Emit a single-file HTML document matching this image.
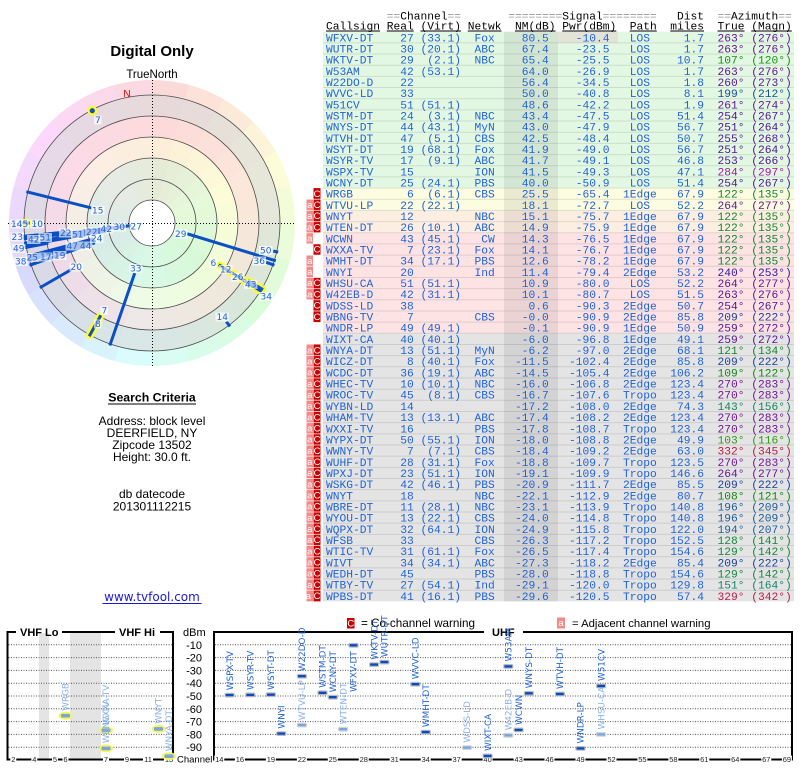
<!DOCTYPE html>
<html><head><meta charset="utf-8"><style>
body{margin:0;width:800px;height:768px;position:relative;overflow:hidden;background:#fff;font-family:"Liberation Sans",sans-serif}
.d{position:absolute;border-radius:50%}
svg{position:absolute;left:0;top:0}
.tb text{font-family:"Liberation Mono",monospace;font-size:11.25px;fill:#1f62d6}
.hd text{font-family:"Liberation Mono",monospace;font-size:11.25px;fill:#000}
.e{text-anchor:end}.m{text-anchor:middle}
.pl text{font-family:"DejaVu Sans",sans-serif;font-size:9px;fill:#1f62d6}
.pl rect{fill:#fff;opacity:.65}
.vl text{font-family:"DejaVu Sans",sans-serif;font-size:8.8px}
.dk{fill:#1f62d6}.lt{fill:#8ab0e8}
.ax text{font-family:"Liberation Sans",sans-serif;font-size:7.5px;fill:#222;text-anchor:middle}
</style></head><body>
<div class="d" style="left:9px;top:80px;width:286px;height:286px;background:conic-gradient(hsl(0,85%,92%) 0deg 15deg,hsl(15,85%,92%) 15deg 30deg,hsl(30,85%,92%) 30deg 45deg,hsl(45,85%,92%) 45deg 60deg,hsl(60,85%,92%) 60deg 75deg,hsl(75,85%,92%) 75deg 90deg,hsl(90,85%,92%) 90deg 105deg,hsl(105,85%,92%) 105deg 120deg,hsl(120,85%,92%) 120deg 135deg,hsl(135,85%,92%) 135deg 150deg,hsl(150,85%,92%) 150deg 165deg,hsl(165,85%,92%) 165deg 180deg,hsl(180,85%,92%) 180deg 195deg,hsl(195,85%,92%) 195deg 210deg,hsl(210,85%,92%) 210deg 225deg,hsl(225,85%,92%) 225deg 240deg,hsl(240,85%,92%) 240deg 255deg,hsl(255,85%,92%) 255deg 270deg,hsl(270,85%,92%) 270deg 285deg,hsl(285,85%,92%) 285deg 300deg,hsl(300,85%,92%) 300deg 315deg,hsl(315,85%,92%) 315deg 330deg,hsl(330,85%,92%) 330deg 345deg,hsl(345,85%,92%) 345deg 360deg)"></div>
<div class="d" style="left:24px;top:95px;width:256px;height:256px;background:#e2e2e2"></div>
<div class="d" style="left:45px;top:116px;width:214px;height:214px;background:#fde3e3"></div>
<div class="d" style="left:66px;top:137px;width:172px;height:172px;background:#fdfde1"></div>
<div class="d" style="left:87px;top:158px;width:130px;height:130px;background:#e1f9e1"></div>
<div class="d" style="left:24px;top:95px;width:256px;height:256px;opacity:.22;background:conic-gradient(hsl(0,85%,85%) 0deg 15deg,hsl(15,85%,85%) 15deg 30deg,hsl(30,85%,85%) 30deg 45deg,hsl(45,85%,85%) 45deg 60deg,hsl(60,85%,85%) 60deg 75deg,hsl(75,85%,85%) 75deg 90deg,hsl(90,85%,85%) 90deg 105deg,hsl(105,85%,85%) 105deg 120deg,hsl(120,85%,85%) 120deg 135deg,hsl(135,85%,85%) 135deg 150deg,hsl(150,85%,85%) 150deg 165deg,hsl(165,85%,85%) 165deg 180deg,hsl(180,85%,85%) 180deg 195deg,hsl(195,85%,85%) 195deg 210deg,hsl(210,85%,85%) 210deg 225deg,hsl(225,85%,85%) 225deg 240deg,hsl(240,85%,85%) 240deg 255deg,hsl(255,85%,85%) 255deg 270deg,hsl(270,85%,85%) 270deg 285deg,hsl(285,85%,85%) 285deg 300deg,hsl(300,85%,85%) 300deg 315deg,hsl(315,85%,85%) 315deg 330deg,hsl(330,85%,85%) 330deg 345deg,hsl(345,85%,85%) 345deg 360deg)"></div>
<div class="d" style="left:129px;top:200px;width:46px;height:46px;background:#fff"></div>

<svg width="800" height="768" xmlns="http://www.w3.org/2000/svg">
<!-- ===== POLAR ===== -->
<g fill="none" stroke="#4a4a4a" stroke-width="0.8">
<circle cx="152" cy="223" r="23"/><circle cx="152" cy="223" r="44"/><circle cx="152" cy="223" r="65"/><circle cx="152" cy="223" r="86"/><circle cx="152" cy="223" r="107"/><circle cx="152" cy="223" r="128"/>
</g>
<g stroke="#000" stroke-width="1" stroke-dasharray="1 2">
<line x1="8" y1="223.5" x2="296" y2="223.5"/>
<line x1="152.5" y1="80" x2="152.5" y2="366"/>
</g>
<text x="152" y="56" text-anchor="middle" font-family="Liberation Sans" font-weight="bold" font-size="15">Digital Only</text>
<text x="152" y="78" text-anchor="middle" font-family="Liberation Sans" font-size="11.5">TrueNorth</text>
<text x="127" y="97" text-anchor="middle" font-family="Liberation Sans" font-size="10" fill="#d40000">N</text>

<g stroke="#ffff20" stroke-width="8" stroke-linecap="round" opacity="0.95">
<line x1="220" y1="265.5" x2="260.6" y2="290.8"/>
<line x1="249.3" y1="281.5" x2="261.7" y2="288.9"/>
<line x1="100.1" y1="316.6" x2="89.9" y2="335"/>
<line x1="28.2" y1="223" x2="24" y2="223"/>
</g>
<circle cx="92.3" cy="110.7" r="4.8" fill="#ffff20"/>
<circle cx="92.3" cy="110.7" r="2.6" fill="#0b4fc4"/>
<g stroke="#0b4fc4" stroke-width="3" stroke-linecap="square">
<line x1="129.67" y1="225.74" x2="24.95" y2="238.6"/>
<line x1="116.07" y1="227.41" x2="24.95" y2="238.6"/>
<line x1="188.63" y1="234.2" x2="274.4" y2="260.42"/>
<line x1="112.5" y1="227.85" x2="24.95" y2="238.6"/>
<line x1="104.93" y1="231.3" x2="25.94" y2="245.23"/>
<line x1="134.26" y1="274.53" x2="110.33" y2="344.03"/>
<line x1="96.69" y1="231.76" x2="25.58" y2="243.02"/>
<line x1="92.98" y1="239.92" x2="28.96" y2="258.28"/>
<line x1="93.47" y1="243.15" x2="30.97" y2="264.67"/>
<line x1="91.73" y1="239.15" x2="28.36" y2="256.13"/>
<line x1="92.43" y1="243.51" x2="30.97" y2="264.67"/>
<line x1="91.56" y1="241.48" x2="29.59" y2="260.42"/>
<line x1="90.48" y1="207.66" x2="27.8" y2="192.03"/>
<line x1="89.52" y1="240.92" x2="28.96" y2="258.28"/>
<line x1="220.01" y1="265.5" x2="260.55" y2="290.83"/>
<line x1="64.48" y1="232.2" x2="24.7" y2="236.38"/>
<line x1="69.73" y1="270.5" x2="41.15" y2="287"/>
<line x1="56.92" y1="232.99" x2="24.7" y2="236.38"/>
<line x1="56.32" y1="234.75" x2="24.95" y2="238.6"/>
<line x1="49.72" y1="252.33" x2="28.96" y2="258.28"/>
<line x1="100.13" y1="316.58" x2="89.94" y2="334.95"/>
<line x1="46.87" y1="243.44" x2="26.35" y2="247.42"/>
<line x1="249.29" y1="281.46" x2="261.72" y2="288.93"/>
<line x1="267.54" y1="262.78" x2="273.03" y2="264.67"/>
<line x1="28.2" y1="223" x2="24" y2="223"/>
<line x1="227.23" y1="322.83" x2="229.03" y2="325.23"/>
<line x1="274.67" y1="251.32" x2="276.72" y2="251.79"/>
<line x1="25.7" y1="236.28" x2="24.7" y2="236.38"/>
</g>
<g class="pl">
<rect x="91" y="206" width="13.5" height="9"/><text x="92" y="213.5">15</text>
<rect x="10" y="219.5" width="19" height="9"/><text x="11" y="227">145</text>
<rect x="30.5" y="219.5" width="13.5" height="9"/><text x="31.5" y="227">10</text>
<rect x="10.5" y="232.5" width="13.5" height="9"/><text x="11.5" y="240">23</text>
<rect x="27" y="235" width="13.5" height="9"/><text x="28" y="242.5">42</text>
<rect x="38.5" y="233" width="13.5" height="9"/><text x="39.5" y="240.5">51</text>
<rect x="59" y="228.5" width="13.5" height="9"/><text x="60" y="236">22</text>
<rect x="71" y="230" width="13.5" height="9"/><text x="72" y="237.5">51</text>
<rect x="85" y="227.5" width="13.5" height="9"/><text x="86" y="235">22</text>
<rect x="99.5" y="224.5" width="13.5" height="9"/><text x="100.5" y="232">42</text>
<rect x="112.5" y="222.5" width="13.5" height="9"/><text x="113.5" y="230">30</text>
<rect x="129.5" y="222" width="13.5" height="9"/><text x="130.5" y="229.5">27</text>
<rect x="90" y="234" width="13.5" height="9"/><text x="91" y="241.5">24</text>
<rect x="12" y="244" width="13.5" height="9"/><text x="13" y="251.5">49</text>
<rect x="65.5" y="241.5" width="13.5" height="9"/><text x="66.5" y="249">47</text>
<rect x="79" y="241.5" width="13.5" height="9"/><text x="80" y="249">44</text>
<rect x="14" y="257" width="13.5" height="9"/><text x="15" y="264.5">38</text>
<rect x="25.5" y="253" width="13.5" height="9"/><text x="26.5" y="260.5">25</text>
<rect x="39" y="252.5" width="13.5" height="9"/><text x="40" y="260">17</text>
<rect x="53" y="251" width="13.5" height="9"/><text x="54" y="258.5">19</text>
<rect x="69.5" y="262.5" width="13.5" height="9"/><text x="70.5" y="270">20</text>
<rect x="129" y="264" width="13.5" height="9"/><text x="130" y="271.5">33</text>
<rect x="174" y="229.5" width="13.5" height="9"/><text x="175" y="237">29</text>
<rect x="259" y="246" width="13.5" height="9"/><text x="260" y="253.5">50</text>
<rect x="252.5" y="256.5" width="13.5" height="9"/><text x="253.5" y="264">36</text>
<rect x="209.5" y="258.5" width="7.5" height="9"/><text x="210.5" y="266">6</text>
<rect x="219" y="265" width="13.5" height="9"/><text x="220" y="272.5">12</text>
<rect x="231" y="272.5" width="13.5" height="9"/><text x="232" y="280">26</text>
<rect x="244" y="280" width="13.5" height="9"/><text x="245" y="287.5">43</text>
<text x="258" y="294">7</text>
<rect x="259.5" y="292" width="13.5" height="9"/><text x="260.5" y="299.5">34</text>
<rect x="215.5" y="312.5" width="13.5" height="9"/><text x="216.5" y="320">14</text>
<rect x="100.5" y="306" width="7.5" height="9"/><text x="101.5" y="313.5">7</text>
<rect x="94" y="319.5" width="7.5" height="9"/><text x="95" y="327">8</text>
<rect x="94" y="115.5" width="7.5" height="9"/><text x="95" y="123">7</text>
</g>

<!-- ===== SEARCH CRITERIA ===== -->
<g font-family="Liberation Sans" font-size="12" text-anchor="middle" fill="#000">
<text x="152" y="401.5" font-weight="bold" font-size="12.3">Search Criteria</text>
<text x="152" y="425">Address: block level</text>
<text x="152" y="437">DEERFIELD, NY</text>
<text x="152" y="449">Zipcode 13502</text>
<text x="152" y="461">Height: 30.0 ft.</text>
<text x="152" y="498">db datecode</text>
<text x="152" y="510.5">201301112215</text>
<text x="152" y="601" font-family="DejaVu Sans" fill="#1a1ad0">www.tvfool.com</text>
</g>
<line x1="108" y1="404" x2="196" y2="404" stroke="#000" stroke-width="1"/>
<line x1="102.5" y1="603.5" x2="201.5" y2="603.5" stroke="#1a1ad0" stroke-width="1"/>

<!-- ===== TABLE ===== -->
<rect x="323" y="31.7" width="471" height="156.38" fill="#e3f8e3"/>
<rect x="323" y="188.08" width="471" height="22.34" fill="#fcfce0"/>
<rect x="323" y="210.42" width="471" height="22.34" fill="#fdeee2"/>
<rect x="323" y="232.76" width="471" height="100.53" fill="#fde3e3"/>
<rect x="323" y="333.29" width="471" height="268.08" fill="#e4e4e4"/>
<rect x="504" y="31.7" width="54" height="569.67" fill="#000" opacity="0.07"/>
<rect x="558" y="31.7" width="60" height="11.17" fill="#e3e3d8"/>
<!-- warning boxes -->
<g fill="#f28a8a">
<rect x="306.5" y="199.25" width="6.5" height="44.68"/>
<rect x="306.5" y="255.1" width="6.5" height="44.68"/>
<rect x="306.5" y="344.46" width="6.5" height="256.91"/>
</g>
<g fill="#c80000">
<rect x="313.5" y="188.08" width="7" height="44.68"/>
<rect x="313.5" y="243.93" width="7" height="11.17"/>
<rect x="313.5" y="277.44" width="7" height="44.68"/>
<rect x="313.5" y="344.46" width="7" height="256.91"/>
</g>
<path stroke="#000" stroke-opacity="0.1" stroke-width="1" fill="none" d="M323 42.87H794M323 54.04H794M323 65.21H794M323 76.38H794M323 87.55H794M323 98.72H794M323 109.89H794M323 121.06H794M323 132.23H794M323 143.4H794M323 154.57H794M323 165.74H794M323 176.91H794M323 188.08H794M323 199.25H794M323 210.42H794M323 221.59H794M323 232.76H794M323 243.93H794M323 255.1H794M323 266.27H794M323 277.44H794M323 288.61H794M323 299.78H794M323 310.95H794M323 322.12H794M323 333.29H794M323 344.46H794M323 355.63H794M323 366.8H794M323 377.97H794M323 389.14H794M323 400.31H794M323 411.48H794M323 422.65H794M323 433.82H794M323 444.99H794M323 456.16H794M323 467.33H794M323 478.5H794M323 489.67H794M323 500.84H794M323 512.01H794M323 523.18H794M323 534.35H794M323 545.52H794M323 556.69H794M323 567.86H794M323 579.03H794M323 590.2H794"/>
<path stroke="#fff" stroke-opacity="0.7" stroke-width="1" fill="none" d="M306 199.25H321M306 210.42H321M306 221.59H321M306 232.76H321M306 243.93H321M306 255.1H321M306 266.27H321M306 277.44H321M306 288.61H321M306 299.78H321M306 310.95H321M306 355.63H321M306 366.8H321M306 377.97H321M306 389.14H321M306 400.31H321M306 411.48H321M306 422.65H321M306 433.82H321M306 444.99H321M306 456.16H321M306 467.33H321M306 478.5H321M306 489.67H321M306 500.84H321M306 512.01H321M306 523.18H321M306 534.35H321M306 545.52H321M306 556.69H321M306 567.86H321M306 579.03H321M306 590.2H321"/>
<text font-family="Liberation Sans" font-size="9.5" fill="#fff" text-anchor="middle">
<tspan x="309.75" y="208.05">a</tspan><tspan x="309.75" y="219.22">a</tspan><tspan x="309.75" y="230.39">a</tspan><tspan x="309.75" y="241.56">a</tspan><tspan x="309.75" y="263.9">a</tspan><tspan x="309.75" y="275.07">a</tspan><tspan x="309.75" y="286.24">a</tspan><tspan x="309.75" y="297.41">a</tspan><tspan x="309.75" y="353.26">a</tspan><tspan x="309.75" y="364.43">a</tspan><tspan x="309.75" y="375.6">a</tspan><tspan x="309.75" y="386.77">a</tspan><tspan x="309.75" y="397.94">a</tspan><tspan x="309.75" y="409.11">a</tspan><tspan x="309.75" y="420.28">a</tspan><tspan x="309.75" y="431.45">a</tspan><tspan x="309.75" y="442.62">a</tspan><tspan x="309.75" y="453.79">a</tspan><tspan x="309.75" y="464.96">a</tspan><tspan x="309.75" y="476.13">a</tspan><tspan x="309.75" y="487.3">a</tspan><tspan x="309.75" y="498.47">a</tspan><tspan x="309.75" y="509.64">a</tspan><tspan x="309.75" y="520.81">a</tspan><tspan x="309.75" y="531.98">a</tspan><tspan x="309.75" y="543.15">a</tspan><tspan x="309.75" y="554.32">a</tspan><tspan x="309.75" y="565.49">a</tspan><tspan x="309.75" y="576.66">a</tspan><tspan x="309.75" y="587.83">a</tspan><tspan x="309.75" y="599">a</tspan>
<tspan x="317" y="196.88">C</tspan><tspan x="317" y="208.05">C</tspan><tspan x="317" y="219.22">C</tspan><tspan x="317" y="230.39">C</tspan><tspan x="317" y="252.73">C</tspan><tspan x="317" y="286.24">C</tspan><tspan x="317" y="297.41">C</tspan><tspan x="317" y="308.58">C</tspan><tspan x="317" y="319.75">C</tspan><tspan x="317" y="353.26">C</tspan><tspan x="317" y="364.43">C</tspan><tspan x="317" y="375.6">C</tspan><tspan x="317" y="386.77">C</tspan><tspan x="317" y="397.94">C</tspan><tspan x="317" y="409.11">C</tspan><tspan x="317" y="420.28">C</tspan><tspan x="317" y="431.45">C</tspan><tspan x="317" y="442.62">C</tspan><tspan x="317" y="453.79">C</tspan><tspan x="317" y="464.96">C</tspan><tspan x="317" y="476.13">C</tspan><tspan x="317" y="487.3">C</tspan><tspan x="317" y="498.47">C</tspan><tspan x="317" y="509.64">C</tspan><tspan x="317" y="520.81">C</tspan><tspan x="317" y="531.98">C</tspan><tspan x="317" y="543.15">C</tspan><tspan x="317" y="554.32">C</tspan><tspan x="317" y="565.49">C</tspan><tspan x="317" y="576.66">C</tspan><tspan x="317" y="587.83">C</tspan><tspan x="317" y="599">C</tspan>
</text>

<g class="hd">
<text y="19.3"><tspan x="386.75" style="fill:#999">==</tspan><tspan x="400.25">Channel</tspan><tspan x="447.5" style="fill:#999">==</tspan><tspan x="508.25" style="fill:#999">========</tspan><tspan x="562.25">Signal</tspan><tspan x="602.75" style="fill:#999">========</tspan><tspan x="677">Dist</tspan><tspan x="717.5" style="fill:#999">==</tspan><tspan x="731">Azimuth</tspan><tspan x="778.25" style="fill:#999">==</tspan></text>
<text y="29.3"><tspan x="326">Callsign</tspan><tspan x="386.75">Real</tspan><tspan x="420.5">(Virt)</tspan><tspan x="467.75">Netwk</tspan><tspan x="515">NM(dB)</tspan><tspan x="562.25">Pwr(dBm)</tspan><tspan x="629.75">Path</tspan><tspan x="670.25">miles</tspan><tspan x="717.5">True</tspan><tspan x="751.25">(Magn)</tspan></text>
</g>
<path stroke="#000" stroke-width="1" d="M326 31H380M386.75 31H413.75M420.5 31H461M467.75 31H501.5M515 31H555.5M562.25 31H616.25M629.75 31H656.75M670.25 31H704M717.5 31H744.5M751.25 31H791.75"/>

<g class="tb">
<text y="41.3"><tspan x="326">WFXV-DT</tspan><tspan class="e" x="413.75">27</tspan><tspan class="e" x="461">(33.1)</tspan><tspan class="e" x="494.75">Fox</tspan><tspan class="e" x="548.75">80.5</tspan><tspan class="e" x="609.5">-10.4</tspan><tspan class="m" x="639.9">LOS</tspan><tspan class="e" x="704">1.7</tspan><tspan x="717.5" style="fill:hsl(276,75%,33%)">263° (276°)</tspan></text>
<text y="52.47"><tspan x="326">WUTR-DT</tspan><tspan class="e" x="413.75">30</tspan><tspan class="e" x="461">(20.1)</tspan><tspan class="e" x="494.75">ABC</tspan><tspan class="e" x="548.75">67.4</tspan><tspan class="e" x="609.5">-23.5</tspan><tspan class="m" x="639.9">LOS</tspan><tspan class="e" x="704">1.7</tspan><tspan x="717.5" style="fill:hsl(276,75%,33%)">263° (276°)</tspan></text>
<text y="63.64"><tspan x="326">WKTV-DT</tspan><tspan class="e" x="413.75">29</tspan><tspan class="e" x="461">(2.1)</tspan><tspan class="e" x="494.75">NBC</tspan><tspan class="e" x="548.75">65.4</tspan><tspan class="e" x="609.5">-25.5</tspan><tspan class="m" x="639.9">LOS</tspan><tspan class="e" x="704">10.7</tspan><tspan x="717.5" style="fill:hsl(120,75%,33%)">107° (120°)</tspan></text>
<text y="74.81"><tspan x="326">W53AM</tspan><tspan class="e" x="413.75">42</tspan><tspan class="e" x="461">(53.1)</tspan><tspan class="e" x="548.75">64.0</tspan><tspan class="e" x="609.5">-26.9</tspan><tspan class="m" x="639.9">LOS</tspan><tspan class="e" x="704">1.7</tspan><tspan x="717.5" style="fill:hsl(276,75%,33%)">263° (276°)</tspan></text>
<text y="85.98"><tspan x="326">W22DO-D</tspan><tspan class="e" x="413.75">22</tspan><tspan class="e" x="548.75">56.4</tspan><tspan class="e" x="609.5">-34.5</tspan><tspan class="m" x="639.9">LOS</tspan><tspan class="e" x="704">1.8</tspan><tspan x="717.5" style="fill:hsl(273,75%,33%)">260° (273°)</tspan></text>
<text y="97.15"><tspan x="326">WVVC-LD</tspan><tspan class="e" x="413.75">33</tspan><tspan class="e" x="548.75">50.0</tspan><tspan class="e" x="609.5">-40.8</tspan><tspan class="m" x="639.9">LOS</tspan><tspan class="e" x="704">8.1</tspan><tspan x="717.5" style="fill:hsl(212,75%,33%)">199° (212°)</tspan></text>
<text y="108.32"><tspan x="326">W51CV</tspan><tspan class="e" x="413.75">51</tspan><tspan class="e" x="461">(51.1)</tspan><tspan class="e" x="548.75">48.6</tspan><tspan class="e" x="609.5">-42.2</tspan><tspan class="m" x="639.9">LOS</tspan><tspan class="e" x="704">1.9</tspan><tspan x="717.5" style="fill:hsl(274,75%,33%)">261° (274°)</tspan></text>
<text y="119.49"><tspan x="326">WSTM-DT</tspan><tspan class="e" x="413.75">24</tspan><tspan class="e" x="461">(3.1)</tspan><tspan class="e" x="494.75">NBC</tspan><tspan class="e" x="548.75">43.4</tspan><tspan class="e" x="609.5">-47.5</tspan><tspan class="m" x="639.9">LOS</tspan><tspan class="e" x="704">51.4</tspan><tspan x="717.5" style="fill:hsl(267,75%,33%)">254° (267°)</tspan></text>
<text y="130.66"><tspan x="326">WNYS-DT</tspan><tspan class="e" x="413.75">44</tspan><tspan class="e" x="461">(43.1)</tspan><tspan class="e" x="494.75">MyN</tspan><tspan class="e" x="548.75">43.0</tspan><tspan class="e" x="609.5">-47.9</tspan><tspan class="m" x="639.9">LOS</tspan><tspan class="e" x="704">56.7</tspan><tspan x="717.5" style="fill:hsl(264,75%,33%)">251° (264°)</tspan></text>
<text y="141.83"><tspan x="326">WTVH-DT</tspan><tspan class="e" x="413.75">47</tspan><tspan class="e" x="461">(5.1)</tspan><tspan class="e" x="494.75">CBS</tspan><tspan class="e" x="548.75">42.5</tspan><tspan class="e" x="609.5">-48.4</tspan><tspan class="m" x="639.9">LOS</tspan><tspan class="e" x="704">50.7</tspan><tspan x="717.5" style="fill:hsl(268,75%,33%)">255° (268°)</tspan></text>
<text y="153"><tspan x="326">WSYT-DT</tspan><tspan class="e" x="413.75">19</tspan><tspan class="e" x="461">(68.1)</tspan><tspan class="e" x="494.75">Fox</tspan><tspan class="e" x="548.75">41.9</tspan><tspan class="e" x="609.5">-49.0</tspan><tspan class="m" x="639.9">LOS</tspan><tspan class="e" x="704">56.7</tspan><tspan x="717.5" style="fill:hsl(264,75%,33%)">251° (264°)</tspan></text>
<text y="164.17"><tspan x="326">WSYR-TV</tspan><tspan class="e" x="413.75">17</tspan><tspan class="e" x="461">(9.1)</tspan><tspan class="e" x="494.75">ABC</tspan><tspan class="e" x="548.75">41.7</tspan><tspan class="e" x="609.5">-49.1</tspan><tspan class="m" x="639.9">LOS</tspan><tspan class="e" x="704">46.8</tspan><tspan x="717.5" style="fill:hsl(266,75%,33%)">253° (266°)</tspan></text>
<text y="175.34"><tspan x="326">WSPX-TV</tspan><tspan class="e" x="413.75">15</tspan><tspan class="e" x="494.75">ION</tspan><tspan class="e" x="548.75">41.5</tspan><tspan class="e" x="609.5">-49.3</tspan><tspan class="m" x="639.9">LOS</tspan><tspan class="e" x="704">47.1</tspan><tspan x="717.5" style="fill:hsl(297,75%,38%)">284° (297°)</tspan></text>
<text y="186.51"><tspan x="326">WCNY-DT</tspan><tspan class="e" x="413.75">25</tspan><tspan class="e" x="461">(24.1)</tspan><tspan class="e" x="494.75">PBS</tspan><tspan class="e" x="548.75">40.0</tspan><tspan class="e" x="609.5">-50.9</tspan><tspan class="m" x="639.9">LOS</tspan><tspan class="e" x="704">51.4</tspan><tspan x="717.5" style="fill:hsl(267,75%,33%)">254° (267°)</tspan></text>
<text y="197.68"><tspan x="326">WRGB</tspan><tspan class="e" x="413.75">6</tspan><tspan class="e" x="461">(6.1)</tspan><tspan class="e" x="494.75">CBS</tspan><tspan class="e" x="548.75">25.5</tspan><tspan class="e" x="609.5">-65.4</tspan><tspan class="m" x="639.9">1Edge</tspan><tspan class="e" x="704">67.9</tspan><tspan x="717.5" style="fill:hsl(135,75%,30%)">122° (135°)</tspan></text>
<text y="208.85"><tspan x="326">WTVU-LP</tspan><tspan class="e" x="413.75">22</tspan><tspan class="e" x="461">(22.1)</tspan><tspan class="e" x="548.75">18.1</tspan><tspan class="e" x="609.5">-72.7</tspan><tspan class="m" x="639.9">LOS</tspan><tspan class="e" x="704">52.2</tspan><tspan x="717.5" style="fill:hsl(277,75%,33%)">264° (277°)</tspan></text>
<text y="220.02"><tspan x="326">WNYT</tspan><tspan class="e" x="413.75">12</tspan><tspan class="e" x="494.75">NBC</tspan><tspan class="e" x="548.75">15.1</tspan><tspan class="e" x="609.5">-75.7</tspan><tspan class="m" x="639.9">1Edge</tspan><tspan class="e" x="704">67.9</tspan><tspan x="717.5" style="fill:hsl(135,75%,30%)">122° (135°)</tspan></text>
<text y="231.19"><tspan x="326">WTEN-DT</tspan><tspan class="e" x="413.75">26</tspan><tspan class="e" x="461">(10.1)</tspan><tspan class="e" x="494.75">ABC</tspan><tspan class="e" x="548.75">14.9</tspan><tspan class="e" x="609.5">-75.9</tspan><tspan class="m" x="639.9">1Edge</tspan><tspan class="e" x="704">67.9</tspan><tspan x="717.5" style="fill:hsl(135,75%,30%)">122° (135°)</tspan></text>
<text y="242.36"><tspan x="326">WCWN</tspan><tspan class="e" x="413.75">43</tspan><tspan class="e" x="461">(45.1)</tspan><tspan class="e" x="494.75">CW</tspan><tspan class="e" x="548.75">14.3</tspan><tspan class="e" x="609.5">-76.5</tspan><tspan class="m" x="639.9">1Edge</tspan><tspan class="e" x="704">67.9</tspan><tspan x="717.5" style="fill:hsl(135,75%,30%)">122° (135°)</tspan></text>
<text y="253.53"><tspan x="326">WXXA-TV</tspan><tspan class="e" x="413.75">7</tspan><tspan class="e" x="461">(23.1)</tspan><tspan class="e" x="494.75">Fox</tspan><tspan class="e" x="548.75">14.1</tspan><tspan class="e" x="609.5">-76.7</tspan><tspan class="m" x="639.9">1Edge</tspan><tspan class="e" x="704">67.9</tspan><tspan x="717.5" style="fill:hsl(135,75%,30%)">122° (135°)</tspan></text>
<text y="264.7"><tspan x="326">WMHT-DT</tspan><tspan class="e" x="413.75">34</tspan><tspan class="e" x="461">(17.1)</tspan><tspan class="e" x="494.75">PBS</tspan><tspan class="e" x="548.75">12.6</tspan><tspan class="e" x="609.5">-78.2</tspan><tspan class="m" x="639.9">1Edge</tspan><tspan class="e" x="704">67.9</tspan><tspan x="717.5" style="fill:hsl(135,75%,30%)">122° (135°)</tspan></text>
<text y="275.87"><tspan x="326">WNYI</tspan><tspan class="e" x="413.75">20</tspan><tspan class="e" x="494.75">Ind</tspan><tspan class="e" x="548.75">11.4</tspan><tspan class="e" x="609.5">-79.4</tspan><tspan class="m" x="639.9">2Edge</tspan><tspan class="e" x="704">53.2</tspan><tspan x="717.5" style="fill:hsl(253,75%,35%)">240° (253°)</tspan></text>
<text y="287.04"><tspan x="326">WHSU-CA</tspan><tspan class="e" x="413.75">51</tspan><tspan class="e" x="461">(51.1)</tspan><tspan class="e" x="548.75">10.9</tspan><tspan class="e" x="609.5">-80.0</tspan><tspan class="m" x="639.9">LOS</tspan><tspan class="e" x="704">52.2</tspan><tspan x="717.5" style="fill:hsl(277,75%,33%)">264° (277°)</tspan></text>
<text y="298.21"><tspan x="326">W42EB-D</tspan><tspan class="e" x="413.75">42</tspan><tspan class="e" x="461">(31.1)</tspan><tspan class="e" x="548.75">10.1</tspan><tspan class="e" x="609.5">-80.7</tspan><tspan class="m" x="639.9">LOS</tspan><tspan class="e" x="704">51.5</tspan><tspan x="717.5" style="fill:hsl(276,75%,33%)">263° (276°)</tspan></text>
<text y="309.38"><tspan x="326">WDSS-LD</tspan><tspan class="e" x="413.75">38</tspan><tspan class="e" x="548.75">0.6</tspan><tspan class="e" x="609.5">-90.3</tspan><tspan class="m" x="639.9">2Edge</tspan><tspan class="e" x="704">50.7</tspan><tspan x="717.5" style="fill:hsl(267,75%,33%)">254° (267°)</tspan></text>
<text y="320.55"><tspan x="326">WBNG-TV</tspan><tspan class="e" x="413.75">7</tspan><tspan class="e" x="494.75">CBS</tspan><tspan class="e" x="548.75">-0.0</tspan><tspan class="e" x="609.5">-90.9</tspan><tspan class="m" x="639.9">2Edge</tspan><tspan class="e" x="704">85.8</tspan><tspan x="717.5" style="fill:hsl(222,70%,35%)">209° (222°)</tspan></text>
<text y="331.72"><tspan x="326">WNDR-LP</tspan><tspan class="e" x="413.75">49</tspan><tspan class="e" x="461">(49.1)</tspan><tspan class="e" x="548.75">-0.1</tspan><tspan class="e" x="609.5">-90.9</tspan><tspan class="m" x="639.9">1Edge</tspan><tspan class="e" x="704">50.9</tspan><tspan x="717.5" style="fill:hsl(272,75%,33%)">259° (272°)</tspan></text>
<text y="342.89"><tspan x="326">WIXT-CA</tspan><tspan class="e" x="413.75">40</tspan><tspan class="e" x="461">(40.1)</tspan><tspan class="e" x="548.75">-6.0</tspan><tspan class="e" x="609.5">-96.8</tspan><tspan class="m" x="639.9">1Edge</tspan><tspan class="e" x="704">49.1</tspan><tspan x="717.5" style="fill:hsl(272,75%,33%)">259° (272°)</tspan></text>
<text y="354.06"><tspan x="326">WNYA-DT</tspan><tspan class="e" x="413.75">13</tspan><tspan class="e" x="461">(51.1)</tspan><tspan class="e" x="494.75">MyN</tspan><tspan class="e" x="548.75">-6.2</tspan><tspan class="e" x="609.5">-97.0</tspan><tspan class="m" x="639.9">2Edge</tspan><tspan class="e" x="704">68.1</tspan><tspan x="717.5" style="fill:hsl(134,75%,30%)">121° (134°)</tspan></text>
<text y="365.23"><tspan x="326">WICZ-DT</tspan><tspan class="e" x="413.75">8</tspan><tspan class="e" x="461">(40.1)</tspan><tspan class="e" x="494.75">Fox</tspan><tspan class="e" x="548.75">-11.5</tspan><tspan class="e" x="609.5">-102.4</tspan><tspan class="m" x="639.9">2Edge</tspan><tspan class="e" x="704">85.8</tspan><tspan x="717.5" style="fill:hsl(222,70%,35%)">209° (222°)</tspan></text>
<text y="376.4"><tspan x="326">WCDC-DT</tspan><tspan class="e" x="413.75">36</tspan><tspan class="e" x="461">(19.1)</tspan><tspan class="e" x="494.75">ABC</tspan><tspan class="e" x="548.75">-14.5</tspan><tspan class="e" x="609.5">-105.4</tspan><tspan class="m" x="639.9">2Edge</tspan><tspan class="e" x="704">106.2</tspan><tspan x="717.5" style="fill:hsl(122,75%,30%)">109° (122°)</tspan></text>
<text y="387.57"><tspan x="326">WHEC-TV</tspan><tspan class="e" x="413.75">10</tspan><tspan class="e" x="461">(10.1)</tspan><tspan class="e" x="494.75">NBC</tspan><tspan class="e" x="548.75">-16.0</tspan><tspan class="e" x="609.5">-106.8</tspan><tspan class="m" x="639.9">2Edge</tspan><tspan class="e" x="704">123.4</tspan><tspan x="717.5" style="fill:hsl(283,75%,33%)">270° (283°)</tspan></text>
<text y="398.74"><tspan x="326">WROC-TV</tspan><tspan class="e" x="413.75">45</tspan><tspan class="e" x="461">(8.1)</tspan><tspan class="e" x="494.75">CBS</tspan><tspan class="e" x="548.75">-16.7</tspan><tspan class="e" x="609.5">-107.6</tspan><tspan class="m" x="639.9">Tropo</tspan><tspan class="e" x="704">123.4</tspan><tspan x="717.5" style="fill:hsl(283,75%,33%)">270° (283°)</tspan></text>
<text y="409.91"><tspan x="326">WYBN-LD</tspan><tspan class="e" x="413.75">14</tspan><tspan class="e" x="548.75">-17.2</tspan><tspan class="e" x="609.5">-108.0</tspan><tspan class="m" x="639.9">2Edge</tspan><tspan class="e" x="704">74.3</tspan><tspan x="717.5" style="fill:hsl(156,75%,30%)">143° (156°)</tspan></text>
<text y="421.08"><tspan x="326">WHAM-TV</tspan><tspan class="e" x="413.75">13</tspan><tspan class="e" x="461">(13.1)</tspan><tspan class="e" x="494.75">ABC</tspan><tspan class="e" x="548.75">-17.4</tspan><tspan class="e" x="609.5">-108.2</tspan><tspan class="m" x="639.9">2Edge</tspan><tspan class="e" x="704">123.4</tspan><tspan x="717.5" style="fill:hsl(283,75%,33%)">270° (283°)</tspan></text>
<text y="432.25"><tspan x="326">WXXI-TV</tspan><tspan class="e" x="413.75">16</tspan><tspan class="e" x="494.75">PBS</tspan><tspan class="e" x="548.75">-17.8</tspan><tspan class="e" x="609.5">-108.7</tspan><tspan class="m" x="639.9">Tropo</tspan><tspan class="e" x="704">123.4</tspan><tspan x="717.5" style="fill:hsl(283,75%,33%)">270° (283°)</tspan></text>
<text y="443.42"><tspan x="326">WYPX-DT</tspan><tspan class="e" x="413.75">50</tspan><tspan class="e" x="461">(55.1)</tspan><tspan class="e" x="494.75">ION</tspan><tspan class="e" x="548.75">-18.0</tspan><tspan class="e" x="609.5">-108.8</tspan><tspan class="m" x="639.9">2Edge</tspan><tspan class="e" x="704">49.9</tspan><tspan x="717.5" style="fill:hsl(110,70%,35%)">103° (116°)</tspan></text>
<text y="454.59"><tspan x="326">WWNY-TV</tspan><tspan class="e" x="413.75">7</tspan><tspan class="e" x="461">(7.1)</tspan><tspan class="e" x="494.75">CBS</tspan><tspan class="e" x="548.75">-18.4</tspan><tspan class="e" x="609.5">-109.2</tspan><tspan class="m" x="639.9">2Edge</tspan><tspan class="e" x="704">63.0</tspan><tspan x="717.5" style="fill:hsl(345,75%,42%)">332° (345°)</tspan></text>
<text y="465.76"><tspan x="326">WUHF-DT</tspan><tspan class="e" x="413.75">28</tspan><tspan class="e" x="461">(31.1)</tspan><tspan class="e" x="494.75">Fox</tspan><tspan class="e" x="548.75">-18.8</tspan><tspan class="e" x="609.5">-109.7</tspan><tspan class="m" x="639.9">Tropo</tspan><tspan class="e" x="704">123.5</tspan><tspan x="717.5" style="fill:hsl(283,75%,33%)">270° (283°)</tspan></text>
<text y="476.93"><tspan x="326">WPXJ-DT</tspan><tspan class="e" x="413.75">23</tspan><tspan class="e" x="461">(51.1)</tspan><tspan class="e" x="494.75">ION</tspan><tspan class="e" x="548.75">-19.1</tspan><tspan class="e" x="609.5">-109.9</tspan><tspan class="m" x="639.9">Tropo</tspan><tspan class="e" x="704">146.6</tspan><tspan x="717.5" style="fill:hsl(277,75%,33%)">264° (277°)</tspan></text>
<text y="488.1"><tspan x="326">WSKG-DT</tspan><tspan class="e" x="413.75">42</tspan><tspan class="e" x="461">(46.1)</tspan><tspan class="e" x="494.75">PBS</tspan><tspan class="e" x="548.75">-20.9</tspan><tspan class="e" x="609.5">-111.7</tspan><tspan class="m" x="639.9">2Edge</tspan><tspan class="e" x="704">85.5</tspan><tspan x="717.5" style="fill:hsl(222,70%,35%)">209° (222°)</tspan></text>
<text y="499.27"><tspan x="326">WNYT</tspan><tspan class="e" x="413.75">18</tspan><tspan class="e" x="494.75">NBC</tspan><tspan class="e" x="548.75">-22.1</tspan><tspan class="e" x="609.5">-112.9</tspan><tspan class="m" x="639.9">2Edge</tspan><tspan class="e" x="704">80.7</tspan><tspan x="717.5" style="fill:hsl(121,75%,30%)">108° (121°)</tspan></text>
<text y="510.44"><tspan x="326">WBRE-DT</tspan><tspan class="e" x="413.75">11</tspan><tspan class="e" x="461">(28.1)</tspan><tspan class="e" x="494.75">NBC</tspan><tspan class="e" x="548.75">-23.1</tspan><tspan class="e" x="609.5">-113.9</tspan><tspan class="m" x="639.9">Tropo</tspan><tspan class="e" x="704">140.8</tspan><tspan x="717.5" style="fill:hsl(209,70%,35%)">196° (209°)</tspan></text>
<text y="521.61"><tspan x="326">WYOU-DT</tspan><tspan class="e" x="413.75">13</tspan><tspan class="e" x="461">(22.1)</tspan><tspan class="e" x="494.75">CBS</tspan><tspan class="e" x="548.75">-24.0</tspan><tspan class="e" x="609.5">-114.8</tspan><tspan class="m" x="639.9">Tropo</tspan><tspan class="e" x="704">140.8</tspan><tspan x="717.5" style="fill:hsl(209,70%,35%)">196° (209°)</tspan></text>
<text y="532.78"><tspan x="326">WQPX-DT</tspan><tspan class="e" x="413.75">32</tspan><tspan class="e" x="461">(64.1)</tspan><tspan class="e" x="494.75">ION</tspan><tspan class="e" x="548.75">-24.9</tspan><tspan class="e" x="609.5">-115.8</tspan><tspan class="m" x="639.9">Tropo</tspan><tspan class="e" x="704">122.0</tspan><tspan x="717.5" style="fill:hsl(207,70%,35%)">194° (207°)</tspan></text>
<text y="543.95"><tspan x="326">WFSB</tspan><tspan class="e" x="413.75">33</tspan><tspan class="e" x="494.75">CBS</tspan><tspan class="e" x="548.75">-26.3</tspan><tspan class="e" x="609.5">-117.2</tspan><tspan class="m" x="639.9">Tropo</tspan><tspan class="e" x="704">152.5</tspan><tspan x="717.5" style="fill:hsl(141,75%,30%)">128° (141°)</tspan></text>
<text y="555.12"><tspan x="326">WTIC-TV</tspan><tspan class="e" x="413.75">31</tspan><tspan class="e" x="461">(61.1)</tspan><tspan class="e" x="494.75">Fox</tspan><tspan class="e" x="548.75">-26.5</tspan><tspan class="e" x="609.5">-117.4</tspan><tspan class="m" x="639.9">Tropo</tspan><tspan class="e" x="704">154.6</tspan><tspan x="717.5" style="fill:hsl(142,75%,30%)">129° (142°)</tspan></text>
<text y="566.29"><tspan x="326">WIVT</tspan><tspan class="e" x="413.75">34</tspan><tspan class="e" x="461">(34.1)</tspan><tspan class="e" x="494.75">ABC</tspan><tspan class="e" x="548.75">-27.3</tspan><tspan class="e" x="609.5">-118.2</tspan><tspan class="m" x="639.9">2Edge</tspan><tspan class="e" x="704">85.4</tspan><tspan x="717.5" style="fill:hsl(222,70%,35%)">209° (222°)</tspan></text>
<text y="577.46"><tspan x="326">WEDH-DT</tspan><tspan class="e" x="413.75">45</tspan><tspan class="e" x="494.75">PBS</tspan><tspan class="e" x="548.75">-28.0</tspan><tspan class="e" x="609.5">-118.8</tspan><tspan class="m" x="639.9">Tropo</tspan><tspan class="e" x="704">154.6</tspan><tspan x="717.5" style="fill:hsl(142,75%,30%)">129° (142°)</tspan></text>
<text y="588.63"><tspan x="326">WTBY-TV</tspan><tspan class="e" x="413.75">27</tspan><tspan class="e" x="461">(54.1)</tspan><tspan class="e" x="494.75">Ind</tspan><tspan class="e" x="548.75">-29.1</tspan><tspan class="e" x="609.5">-120.0</tspan><tspan class="m" x="639.9">Tropo</tspan><tspan class="e" x="704">129.8</tspan><tspan x="717.5" style="fill:hsl(164,75%,30%)">151° (164°)</tspan></text>
<text y="599.8"><tspan x="326">WPBS-DT</tspan><tspan class="e" x="413.75">41</tspan><tspan class="e" x="461">(16.1)</tspan><tspan class="e" x="494.75">PBS</tspan><tspan class="e" x="548.75">-29.6</tspan><tspan class="e" x="609.5">-120.5</tspan><tspan class="m" x="639.9">Tropo</tspan><tspan class="e" x="704">57.4</tspan><tspan x="717.5" style="fill:hsl(342,75%,42%)">329° (342°)</tspan></text>
</g>

<!-- ===== LEGEND ===== -->
<rect x="347" y="618" width="7.5" height="10.5" fill="#c80000"/>
<text x="350.75" y="626.5" fill="#fff" font-family="Liberation Sans" font-size="9.5" text-anchor="middle">C</text>
<text x="361" y="627" font-family="Liberation Sans" font-size="11.7">= Co-channel warning</text>
<rect x="557" y="617.5" width="8" height="11" fill="#f28a8a"/>
<text x="561" y="626" fill="#fff" font-family="Liberation Sans" font-size="9.5" text-anchor="middle">a</text>
<text x="572" y="627" font-family="Liberation Sans" font-size="11.3">= Adjacent channel warning</text>

<!-- ===== BOTTOM CHARTS ===== -->
<rect x="39" y="633" width="10" height="125.5" fill="#e4e4e4"/>
<rect x="70" y="633" width="31" height="125.5" fill="#e4e4e4"/>
<path stroke="#555" stroke-width="1" stroke-dasharray="1 1.5" fill="none" d="M8.5 644.8H172M8.5 657.6H172M8.5 670.4H172M8.5 683.2H172M8.5 696H172M8.5 708.8H172M8.5 721.6H172M8.5 734.4H172M8.5 747.2H172M215 644.8H791M215 657.6H791M215 670.4H791M215 683.2H791M215 696H791M215 708.8H791M215 721.6H791M215 734.4H791M215 747.2H791"/>
<g stroke="#000" stroke-width="2" fill="none">
<path d="M16 632H7.5V759.5H173V632H160M62 632H115"/>
<path d="M484 632H214V759.5H792V632H523"/>
</g>
<g font-family="Liberation Sans" font-weight="bold" font-size="11">
<text x="20" y="636">VHF Lo</text>
<text x="119" y="636">VHF Hi</text>
<text x="492" y="636">UHF</text>
</g>
<g font-family="Liberation Sans" font-size="11" fill="#000">
<text x="183" y="636">dBm</text>
<g text-anchor="end">
<text x="202" y="648.8">-10</text><text x="202" y="661.6">-20</text><text x="202" y="674.4">-30</text><text x="202" y="687.2">-40</text><text x="202" y="700">-50</text><text x="202" y="712.8">-60</text><text x="202" y="725.6">-70</text><text x="202" y="738.4">-80</text><text x="202" y="751.2">-90</text>
</g>
<text x="177" y="762.5" font-size="9.5">Channel</text>
</g>
<g fill="#fff">
<rect x="10.3" y="755.5" width="6" height="8"/><rect x="31.3" y="755.5" width="6" height="8"/><rect x="52" y="755.5" width="6" height="8"/><rect x="62.5" y="755.5" width="6" height="8"/><rect x="103" y="755.5" width="6" height="8"/><rect x="124" y="755.5" width="6" height="8"/><rect x="143" y="755.5" width="10" height="8"/><rect x="164" y="755.5" width="10" height="8"/>
<rect x="214.3" y="755.5" width="10" height="8"/><rect x="234.9" y="755.5" width="10" height="8"/><rect x="265.9" y="755.5" width="10" height="8"/><rect x="296.9" y="755.5" width="10" height="8"/><rect x="327.8" y="755.5" width="10" height="8"/><rect x="358.8" y="755.5" width="10" height="8"/><rect x="389.7" y="755.5" width="10" height="8"/><rect x="420.7" y="755.5" width="10" height="8"/><rect x="451.7" y="755.5" width="10" height="8"/><rect x="482.6" y="755.5" width="10" height="8"/><rect x="513.6" y="755.5" width="10" height="8"/><rect x="544.5" y="755.5" width="10" height="8"/><rect x="575.5" y="755.5" width="10" height="8"/><rect x="606.5" y="755.5" width="10" height="8"/><rect x="637.4" y="755.5" width="10" height="8"/><rect x="668.4" y="755.5" width="10" height="8"/><rect x="699.3" y="755.5" width="10" height="8"/><rect x="730.3" y="755.5" width="10" height="8"/><rect x="761.3" y="755.5" width="10" height="8"/><rect x="781.9" y="755.5" width="10" height="8"/>
</g>
<g class="ax">
<text x="13.3" y="762.2">2</text><text x="34.3" y="762.2">4</text><text x="55" y="762.2">5</text><text x="65.5" y="762.2">6</text><text x="106" y="762.2">7</text><text x="127" y="762.2">9</text><text x="148" y="762.2">11</text><text x="169" y="762.2">13</text>
<text x="219.3" y="762.2">14</text><text x="239.9" y="762.2">16</text><text x="270.9" y="762.2">19</text><text x="301.9" y="762.2">22</text><text x="332.8" y="762.2">25</text><text x="363.8" y="762.2">28</text><text x="394.7" y="762.2">31</text><text x="425.7" y="762.2">34</text><text x="456.7" y="762.2">37</text><text x="487.6" y="762.2">40</text><text x="518.6" y="762.2">43</text><text x="549.5" y="762.2">46</text><text x="580.5" y="762.2">49</text><text x="611.5" y="762.2">52</text><text x="642.4" y="762.2">55</text><text x="673.4" y="762.2">58</text><text x="704.3" y="762.2">61</text><text x="735.3" y="762.2">64</text><text x="766.3" y="762.2">67</text><text x="786.9" y="762.2">69</text>
</g>

<!-- VHF bars -->
<g fill="#f6f65a">
<ellipse cx="65.5" cy="715.7" rx="7" ry="4"/><ellipse cx="106" cy="730.2" rx="7" ry="4"/><ellipse cx="106" cy="748.4" rx="7" ry="4"/><ellipse cx="158.5" cy="728.9" rx="7" ry="4"/><ellipse cx="169" cy="756.2" rx="7" ry="4"/>
</g>
<g fill="#7aa4e2">
<rect x="61" y="713.9" width="9" height="3.6" rx="1"/><rect x="101.5" y="728.4" width="9" height="3.6" rx="1"/><rect x="101.5" y="746.6" width="9" height="3.6" rx="1"/><rect x="154" y="727.1" width="9" height="3.6" rx="1"/><rect x="164.5" y="754.4" width="9" height="3.6" rx="1"/>
</g>
<g class="vl">
<text class="lt" transform="translate(68.7,710.7) rotate(-90)">WRGB</text>
<text class="lt" transform="translate(109.2,725.2) rotate(-90)">WXXA-TV</text>
<text class="lt" transform="translate(109.2,743.3) rotate(-90)">WBNG-TV</text>
<text class="lt" transform="translate(161.7,723.9) rotate(-90)">WNYT</text>
<text class="lt" transform="translate(172.2,751.2) rotate(-90)">WNYA-DT</text>
</g>

<!-- UHF bars -->
<g fill="#7aa4e2" stroke="#d4d4d4" stroke-width="1.2">
<rect x="297.4" y="723.3" width="9" height="3.6" rx="1"/>
<rect x="338.6" y="727.4" width="9" height="3.6" rx="1"/>
<rect x="462.5" y="745.8" width="9" height="3.6" rx="1"/>
<rect x="503.8" y="733.5" width="9" height="3.6" rx="1"/>
<rect x="596.6" y="732.6" width="9" height="3.6" rx="1"/>
</g>
<g fill="#0a4cc0" stroke="#bdbdbd" stroke-width="1.2">
<rect x="225.1" y="693.3" width="9" height="3.6" rx="1"/>
<rect x="245.8" y="693.1" width="9" height="3.6" rx="1"/>
<rect x="266.4" y="692.9" width="9" height="3.6" rx="1"/>
<rect x="276.7" y="731.8" width="9" height="3.6" rx="1"/>
<rect x="297.4" y="674.4" width="9" height="3.6" rx="1"/>
<rect x="318" y="691" width="9" height="3.6" rx="1"/>
<rect x="328.3" y="695.4" width="9" height="3.6" rx="1"/>
<rect x="349" y="643.5" width="9" height="3.6" rx="1"/>
<rect x="369.6" y="662.8" width="9" height="3.6" rx="1"/>
<rect x="379.9" y="660.3" width="9" height="3.6" rx="1"/>
<rect x="410.9" y="682.4" width="9" height="3.6" rx="1"/>
<rect x="421.2" y="730.3" width="9" height="3.6" rx="1"/>
<rect x="483.1" y="754.1" width="9" height="3.6" rx="1"/>
<rect x="503.8" y="664.6" width="9" height="3.6" rx="1"/>
<rect x="514.1" y="728.1" width="9" height="3.6" rx="1"/>
<rect x="524.4" y="691.5" width="9" height="3.6" rx="1"/>
<rect x="555.4" y="692.2" width="9" height="3.6" rx="1"/>
<rect x="576" y="746.6" width="9" height="3.6" rx="1"/>
<rect x="596.6" y="684.2" width="9" height="3.6" rx="1"/>
</g>
<g class="vl">
<text class="dk" transform="translate(232.8,690.1) rotate(-90)">WSPX-TV</text>
<text class="dk" transform="translate(253.5,689.9) rotate(-90)">WSYR-TV</text>
<text class="dk" transform="translate(274.1,689.7) rotate(-90)">WSYT-DT</text>
<text class="dk" transform="translate(284.4,728.6) rotate(-90)">WNYI</text>
<text class="dk" transform="translate(305.1,671.2) rotate(-90)">W22DO-D</text>
<text class="dk" transform="translate(325.7,687.8) rotate(-90)">WSTM-DT</text>
<text class="dk" transform="translate(336,692.2) rotate(-90)">WCNY-DT</text>
<text class="dk" transform="translate(356.7,651.3) rotate(-90)" text-anchor="end">WFXV-DT</text>
<text class="dk" transform="translate(377.3,659.6) rotate(-90)">WKTV-DT</text>
<text class="dk" transform="translate(387.6,657.1) rotate(-90)">WUTR-DT</text>
<text class="dk" transform="translate(418.6,679.2) rotate(-90)">WVVC-LD</text>
<text class="dk" transform="translate(428.9,727.1) rotate(-90)">WMHT-DT</text>
<text class="dk" transform="translate(490.8,750.9) rotate(-90)">WIXT-CA</text>
<text class="dk" transform="translate(511.5,661.4) rotate(-90)">W53AM</text>
<text class="dk" transform="translate(521.8,724.9) rotate(-90)">WCWN</text>
<text class="dk" transform="translate(532.1,688.3) rotate(-90)">WNYS-DT</text>
<text class="dk" transform="translate(563.1,689) rotate(-90)">WTVH-DT</text>
<text class="dk" transform="translate(583.7,743.4) rotate(-90)">WNDR-LP</text>
<text class="dk" transform="translate(604.3,681) rotate(-90)">W51CV</text>
<text class="lt" transform="translate(305.1,720.1) rotate(-90)">WTVU-LP</text>
<text class="lt" transform="translate(346.3,724.2) rotate(-90)">WTEN-DT</text>
<text class="lt" transform="translate(470.2,742.6) rotate(-90)">WDSS-LD</text>
<text class="lt" transform="translate(511.5,730.3) rotate(-90)">W42EB-D</text>
<text class="lt" transform="translate(604.3,729.4) rotate(-90)">WHSU-CA</text>
</g>
</svg>
</body></html>
